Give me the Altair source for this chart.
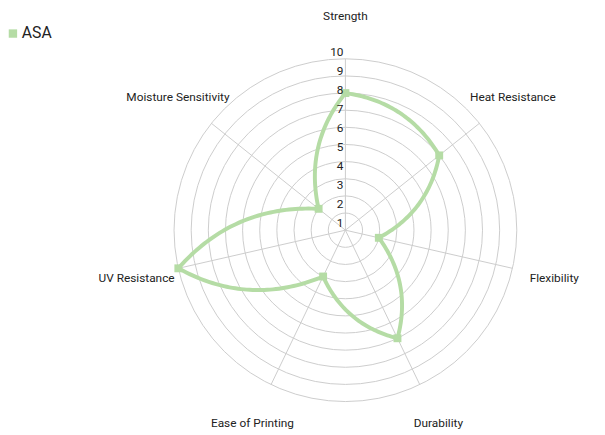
import altair as alt
import pandas as pd

# ---- data ----
axes = ["Strength", "Heat Resistance", "Flexibility", "Durability",
        "Ease of Printing", "UV Resistance", "Moisture Sensitivity"]
values = [8, 7, 2, 7, 3, 10, 2]
series_name = "ASA"
levels = [1, 2, 3, 4, 5, 6, 7, 8, 9, 10]
max_value = 10
label_factor = 1.25

# ---- layout constants ----
W, H = 597, 427
CX, CY = 342, 222.3
R = 173.7
K = R / max_value
GREEN = "#b5dca5"
GRID = "#cccccc"
TEXT = "#222222"
FONT = "Roboto"

X = alt.Scale(domain=[-CX / K, (W - CX) / K], nice=False, zero=False)
Y = alt.Scale(domain=[-(H - CY) / K, CY / K], nice=False, zero=False)

n = len(axes)
df = pd.DataFrame({"axis": axes, "value": values, "idx": list(range(n)),
                   "material": [series_name] * n})
rings = pd.DataFrame({"level": levels})

ang = f"datum.idx * 2 * PI / {n}"

base = alt.Chart(df).transform_calculate(
    ang=ang,
    px=f"datum.value * sin({ang})",
    py=f"datum.value * cos({ang})",
    ex=f"{max_value} * sin({ang})",
    ey=f"{max_value} * cos({ang})",
    lx=f"{max_value * label_factor} * sin({ang})",
    ly=f"{max_value * label_factor} * cos({ang})",
    zero="0",
)

# concentric grid circles: Vega circle symbol diameter = sqrt(size)
ring_layer = alt.Chart(rings).mark_point(
    shape="circle", filled=False, stroke=GRID, strokeWidth=1, opacity=1
).encode(
    x=alt.XDatum(datum=0, scale=X, axis=None, type="quantitative"),
    y=alt.YDatum(datum=0, scale=Y, axis=None, type="quantitative"),
    size=alt.Size("level:Q", scale=alt.Scale(type="pow", exponent=2, domain=[0, max_value],
                                             range=[0, (2 * R) ** 2], zero=True), legend=None),
)

spokes = base.mark_rule(color=GRID, strokeWidth=1).encode(
    x=alt.X("zero:Q", scale=X, axis=None),
    y=alt.Y("zero:Q", scale=Y, axis=None),
    x2="ex:Q",
    y2="ey:Q",
)

# series outline: each segment is a quadratic curve bent like the polar arc between two axes
line = alt.Chart(df).transform_calculate(
    nidx=f"(datum.idx + 1) % {n}"
).transform_lookup(
    lookup="nidx", from_=alt.LookupData(data=df, key="idx", fields=["value"]), as_=["nvalue"]
).transform_calculate(
    a1=f"datum.idx * 2 * PI / {n}",
    a2=f"(datum.idx + 1) * 2 * PI / {n}",
    am=f"(datum.idx + 0.5) * 2 * PI / {n}",
    rc=f"(datum.value + datum.nvalue) / (2 * cos(PI / {n}))",
    t="sequence(0, 1.0001, 0.02)",
).transform_flatten(["t"]).transform_calculate(
    x1="datum.value * sin(datum.a1)", y1="datum.value * cos(datum.a1)",
    x2="datum.nvalue * sin(datum.a2)", y2="datum.nvalue * cos(datum.a2)",
    xc="datum.rc * sin(datum.am)", yc="datum.rc * cos(datum.am)",
    ord="datum.idx + datum.t",
).transform_calculate(
    sx="(1 - datum.t) * (1 - datum.t) * datum.x1 + 2 * (1 - datum.t) * datum.t * datum.xc + datum.t * datum.t * datum.x2",
    sy="(1 - datum.t) * (1 - datum.t) * datum.y1 + 2 * (1 - datum.t) * datum.t * datum.yc + datum.t * datum.t * datum.y2",
).mark_line(strokeWidth=4, color=GREEN, strokeJoin="round").encode(
    x=alt.X("sx:Q", scale=X, axis=None),
    y=alt.Y("sy:Q", scale=Y, axis=None),
    order="ord:Q",
)

points = base.mark_square(size=64, opacity=1).encode(
    x=alt.X("px:Q", scale=X, axis=None),
    y=alt.Y("py:Q", scale=Y, axis=None),
    color=alt.Color("material:N", scale=alt.Scale(domain=[series_name], range=[GREEN]),
                    legend=alt.Legend(title=None, orient="none", legendX=-3, legendY=15,
                                      symbolType="square", symbolSize=72, symbolOpacity=1,
                                      symbolStrokeWidth=0, labelFontSize=16, labelFont=FONT,
                                      labelColor=TEXT, labelOffset=1, padding=0)),
)

axis_labels = base.mark_text(fontSize=12, font=FONT, align="center", baseline="middle", color=TEXT).encode(
    x=alt.X("lx:Q", scale=X, axis=None),
    y=alt.Y("ly:Q", scale=Y, axis=None),
    text="axis:N",
)

main = alt.layer(ring_layer, spokes, line, points, axis_labels)

tick_labels = alt.Chart(rings).mark_text(fontSize=12, font=FONT, align="right", baseline="middle",
                                         dx=-2, color=TEXT).encode(
    x=alt.XDatum(datum=0, scale=X, axis=None, type="quantitative"),
    y=alt.Y("level:Q", scale=alt.Scale(domain=[0, max_value], range=[234.6, 41.3], nice=False, zero=False), axis=None),
    text="level:Q",
)

chart = alt.layer(main, tick_labels).resolve_scale(y="independent").properties(
    width=W, height=H, autosize=alt.AutoSizeParams(type="none"), padding=0
).configure_view(stroke=None)

chart.save("out.html", embed_options={"renderer": "svg", "actions": False})
